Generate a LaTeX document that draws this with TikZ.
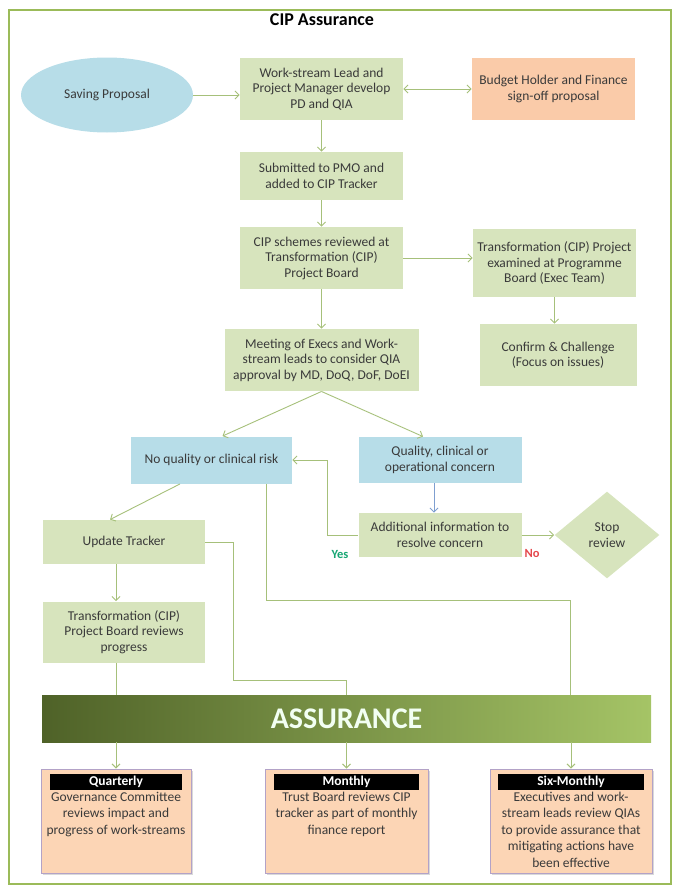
\documentclass[tikz,border=0pt]{standalone}
\usepackage{fontspec}
\setmainfont{Carlito}
\usepackage{tikz}
\usetikzlibrary{positioning, shapes.geometric, arrows.meta, shadows}

\definecolor{boxgreen}{HTML}{D7E4BD}
\definecolor{boxblue}{HTML}{B7DDE8}
\definecolor{boxpeach}{HTML}{FACBA9}
\definecolor{lightpeach}{HTML}{FCD5B5}
\definecolor{lavender}{HTML}{B3A2C7}
\definecolor{txtgray}{HTML}{3A3A3A}
\definecolor{linegreen}{HTML}{A6C07A}
\definecolor{lineblue}{HTML}{7F9FD0}
\definecolor{framegreen}{HTML}{9BBB59}
\definecolor{bardark}{HTML}{4F6228}
\definecolor{barlight}{HTML}{A5C466}
\definecolor{yesgreen}{HTML}{17A673}
\definecolor{nored}{HTML}{E5474C}

\newcommand{\cipfont}{\fontsize{13.5}{15.5}\selectfont}

\begin{document}
\begin{tikzpicture}[x=1pt, y=-1pt, on grid, line width=0.9pt,
box/.style ={rectangle, fill=boxgreen, text=txtgray, align=center, minimum width=163pt, font=\cipfont},
blubox/.style ={box, fill=boxblue},
period/.style ={rectangle, fill=lightpeach, draw=lavender, line width=1pt, minimum height=104pt,
  drop shadow={shadow xshift=2pt, shadow yshift=-2pt, opacity=0.3}},
header/.style ={rectangle, fill=black, text=white, font=\cipfont\bfseries, minimum height=16pt, inner sep=0pt, anchor=north},
body/.style ={align=center, text=txtgray, font=\fontsize{13.5}{16.5}\selectfont, anchor=north, inner sep=1pt},
arr/.style ={linegreen, -{Straight Barb[length=4pt,width=8pt]}},
line/.style ={draw=linegreen}]
\useasboundingbox (0,0) rectangle (677,886);
\draw[framegreen, line width=2pt] (9,10) rectangle (671,884);
\node (title) at (322,20) {\fontsize{18}{20}\selectfont\bfseries CIP Assurance};

% top part
\node (WL) [box, minimum height=62pt] at (321.5,89) {Work-stream Lead and\\Project Manager develop\\PD and QIA};
\node (SP) [ellipse, fill=boxblue, text=txtgray, font=\cipfont, minimum width=172pt, minimum height=75pt,
  below left = 6pt and 214.5pt of WL] {Saving Proposal};
\node (BH) [box, fill=boxpeach, minimum height=62pt, right = 232pt of WL] {Budget Holder and Finance\\sign-off proposal};
\node (SUB) [box, minimum height=48pt, below = 87pt of WL] {Submitted to PMO and\\added to CIP Tracker};
\node (CIP) [box, minimum height=62pt, below = 82pt of SUB] {CIP schemes reviewed at\\Transformation (CIP)\\Project Board};
\node (TP) [box, minimum height=68pt, below right = 5pt and 233pt of CIP] {Transformation (CIP) Project\\examined at Programme\\Board (Exec Team)};
\node (CC) [box, minimum width=157pt, minimum height=62pt, below right = 92pt and 3.5pt of TP] {Confirm \& Challenge\\(Focus on issues)};
\node (MT) [box, minimum width=194pt, minimum height=62pt, below = 102pt of CIP] {Meeting of Execs and Work-\\stream leads to consider QIA\\approval by MD, DoQ, DoF, DoEI};

% decision part
\node (NR) [blubox, minimum width=161pt, minimum height=47pt, below left = 100pt and 110pt of MT] {No quality or clinical risk};
\node (QC) [blubox, minimum height=46pt, right = 228.5pt of NR] {Quality, clinical or\\operational concern};
\node (AI) [box, minimum height=44pt, below = 75pt of QC] {Additional information to\\resolve concern};
\node (ST) [diamond, fill=boxgreen, text=txtgray, align=center, font=\cipfont, inner sep=0pt,
  minimum width=105pt, minimum height=87pt, right = 167pt of AI] {Stop\\review};
\node (yes) [text=yesgreen, font=\fontsize{12.5}{14}\selectfont\bfseries, below left = 19pt and 100pt of AI] {Yes};
\node (no) [text=nored, font=\fontsize{12.5}{14}\selectfont\bfseries, below right = 18pt and 92pt of AI] {No};
\node (UT) [box, minimum width=162pt, minimum height=44pt, below left = 82pt and 87.5pt of NR] {Update Tracker};
\node (RV) [box, minimum width=162pt, minimum height=61pt, below = 90pt of UT] {Transformation (CIP)\\Project Board reviews\\progress};

% assurance part
\node (AS) [rectangle, left color=bardark, right color=barlight, text=green!5!white,
  minimum width=609pt, minimum height=47pt, font=\fontsize{30}{32}\selectfont\bfseries] at (346.5,718.5) {ASSURANCE};
\node (Q) [period, minimum width=150pt, below left = 102.5pt and 230.5pt of AS] {};
\node (M) [period, minimum width=163pt, below = 102.5pt of AS] {};
\node (S) [period, minimum width=162pt, below right = 102.5pt and 224.5pt of AS] {};
\node (QH) [header, minimum width=132pt] at ([yshift=-5pt]Q.north) {Quarterly};
\node (MH) [header, minimum width=145pt] at ([yshift=-5pt]M.north) {Monthly};
\node (SH) [header, minimum width=146pt] at ([yshift=-5pt]S.north) {Six-Monthly};
\node (QB) [body] at (QH.south) {Governance Committee\\reviews impact and\\progress of work-streams};
\node (MB) [body] at (MH.south) {Trust Board reviews CIP\\tracker as part of monthly\\finance report};
\node (SB) [body] at (SH.south) {Executives and work-\\stream leads review QIAs\\to provide assurance that\\mitigating actions have\\been effective};

\path[arr] (SP.east) edge (SP.east -| WL.west)
           (WL) edge (SUB)
           (SUB) edge (CIP)
           (CIP.east) edge (CIP.east -| TP.west)
           (TP.south) edge (TP.south |- CC.north)
           (CIP) edge (MT)
           (MT.south) edge ([xshift=11pt]NR.north)
           (MT.south) edge ([xshift=-17pt]QC.north)
           (AI) edge (ST)
           ([xshift=-31.5pt]NR.south) edge ([xshift=-14pt]UT.north)
           ([xshift=-8pt]UT.south) edge ([xshift=-8pt]RV.north)
           (AS.south -| Q.north) edge (Q.north)
           (AS.south -| M.north) edge (M.north)
           (AS.south -| S.north) edge (S.north);
\path[linegreen, {Straight Barb[length=4pt,width=8pt]}-{Straight Barb[length=4pt,width=8pt]}]
  (WL) edge (BH);
\path[lineblue, -{Straight Barb[length=4pt,width=8pt]}]
  ([xshift=-6pt]QC.south) edge ([xshift=-6pt]AI.north);

\draw[arr] (AI.west) -- ++(-31,0) |- (NR.east);
\draw[line] ([xshift=54.5pt]NR.south) -- ++(0,116.5) -| ([xshift=-1pt]S.north |- AS.north);
\draw[line] (UT.east) -- ++(28,0) -- ++(0,138) -| (M.north |- AS.north);
\draw[line] ([xshift=-8pt]RV.south) -- ([xshift=-8pt]RV.south |- AS.north);
\end{tikzpicture}
\end{document}
